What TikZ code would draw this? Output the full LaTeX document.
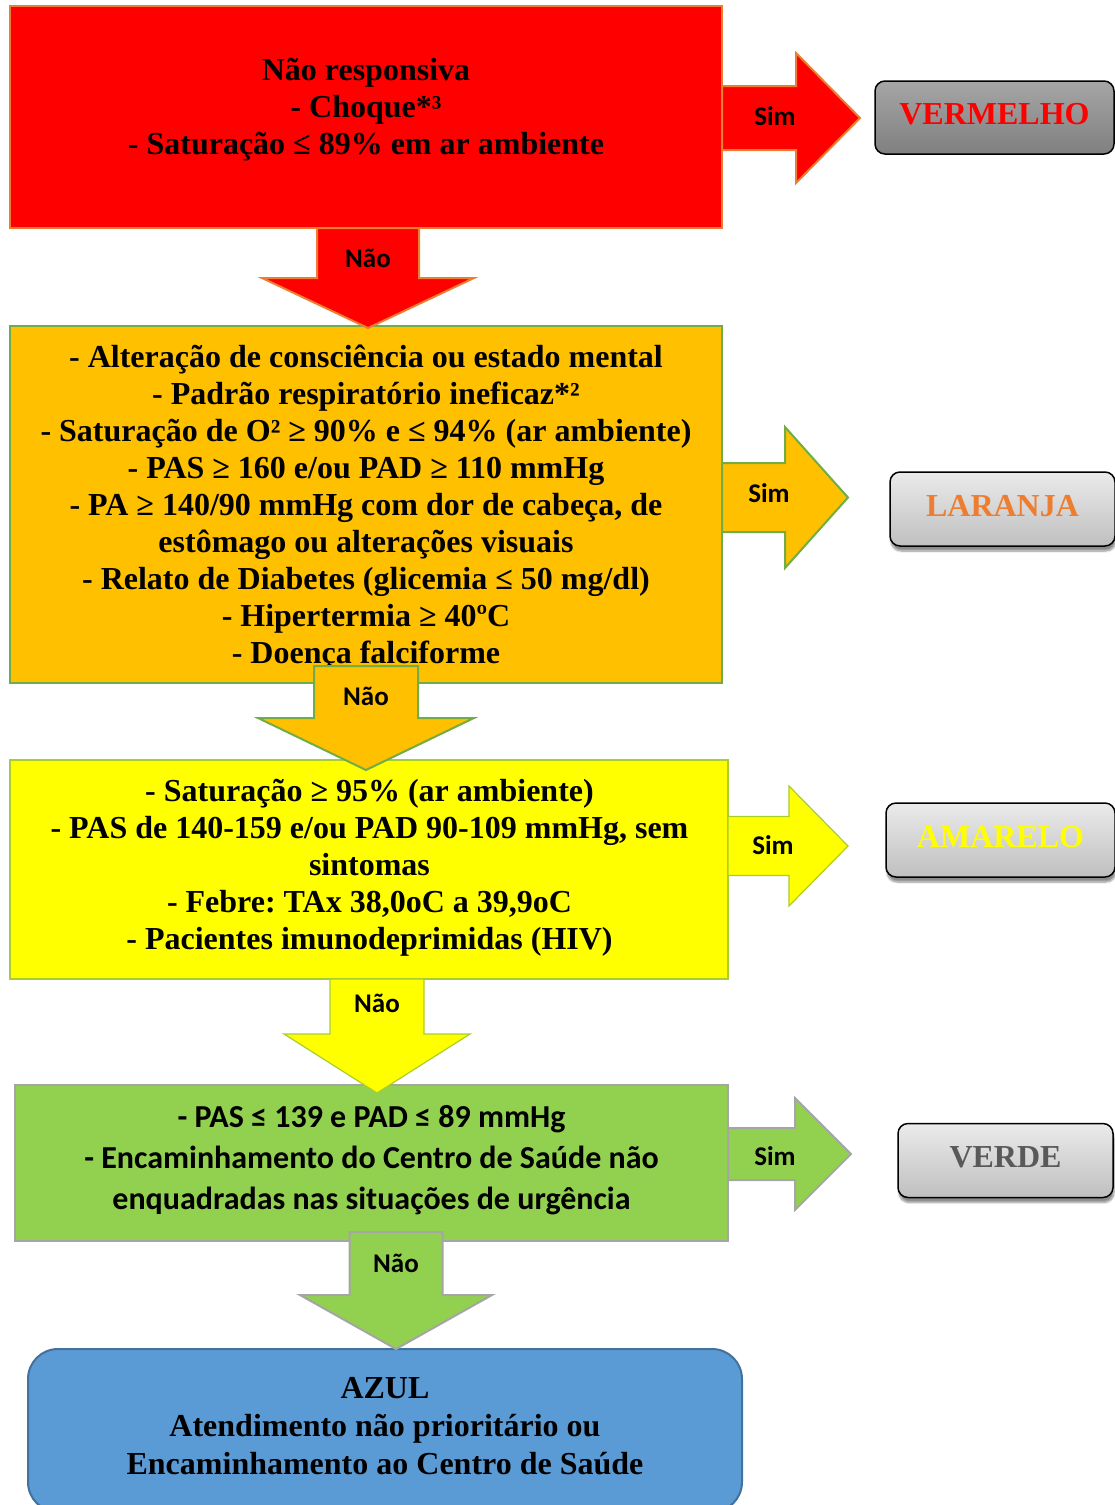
\documentclass[tikz,border=0pt]{standalone}
\usepackage{fontspec}
\setmainfont{Liberation Serif}
\newfontfamily\calib{Carlito}
\usetikzlibrary{calc,shadows.blur}
\frenchspacing

\definecolor{bred}{HTML}{FF0000}
\definecolor{borange}{HTML}{ED7D31}
\definecolor{bamber}{HTML}{FFC000}
\definecolor{byellow}{HTML}{FFFF00}
\definecolor{bgreen}{HTML}{70AD47}
\definecolor{lgreen}{HTML}{92D050}
\definecolor{bgray}{HTML}{A5A5A5}
\definecolor{bblue}{HTML}{5B9BD5}
\definecolor{dblue}{HTML}{41719C}
\definecolor{txtgray}{HTML}{595959}

\tikzset{
  % block arrow pointing down: shaft half width, head half width, shaft length, head length
  pics/downarrow/.style n args={4}{code={
    \path[pic actions] (-#1,0) -- (#1,0) -- (#1,#3) -- (#2,#3) -- (0,#3+#4)
      -- (-#2,#3) -- (-#1,#3) -- cycle;}},
  % block arrow pointing right: shaft half height, head half height, shaft length, head length
  pics/rightarrow/.style n args={4}{code={
    \path[pic actions] (0,-#1) -- (#3,-#1) -- (#3,-#2) -- (#3+#4,0) -- (#3,#2)
      -- (#3,#1) -- (0,#1) -- cycle;}},
  levelbox/.style={rectangle, inner sep=0pt, outer sep=0pt, line width=2pt},
  bodytext/.style={align=center, font=\bfseries\fontsize{32pt}{37pt}\selectfont},
  arrowlabel/.style={font=\calib\bfseries\fontsize{27pt}{30pt}\selectfont},
  colourbox/.style={rectangle, rounded corners=10pt, draw=black, line width=1.5pt,
    inner sep=0pt, text depth=7pt, font=\bfseries\fontsize{32pt}{36pt}\selectfont},
  lightbox/.style={colourbox, top color=white!92!black, bottom color=white!75!black,
    blur shadow={shadow xshift=1pt, shadow yshift=-5pt, shadow opacity=45, shadow blur steps=8}},
}

\begin{document}
\begin{tikzpicture}[x=1pt,y=-1pt]
\useasboundingbox (0,0) rectangle (1115,1505);
\clip (0,0) rectangle (1115,1505);

% level boxes
\node[levelbox, fill=bred, draw=borange, minimum width=712pt, minimum height=222pt] (red) at (366,117) {};
\node[levelbox, fill=bamber, draw=bgreen, minimum width=712pt, minimum height=357pt] (orange) at (366,504.5) {};
\node[levelbox, fill=byellow, draw=bgreen!60!byellow, line width=1.2pt, minimum width=718pt, minimum height=219pt] (yellow) at (369,869.5) {};
\node[levelbox, fill=lgreen, draw=bgray, minimum width=713pt, minimum height=156pt] (green) at (371.5,1163) {};
\node[levelbox, fill=bblue, draw=dblue, rounded corners=30pt, minimum width=714pt, minimum height=163pt] (blue) at (385,1430.5) {};

% outcome boxes
\node[colourbox, top color=white!65!black, bottom color=white!50!black, text=bred,
  minimum width=239pt, minimum height=73pt] (vermelho) at (994.5,117.5) {VERMELHO};
\node[lightbox, text=borange, minimum width=225pt, minimum height=74pt] (laranja) at (1002.5,509) {LARANJA};
\node[lightbox, text=byellow, minimum width=229pt, minimum height=74pt] (amarelo) at (1000.5,840) {AMARELO};
\node[lightbox, text=txtgray, minimum width=215pt, minimum height=74pt] (verde) at (1005.5,1160.5) {VERDE};

% box texts
\node[bodytext] (redtext) at (366,109.5) {Não responsiva\\- Choque*³\\- Saturação ≤ 89\% em ar ambiente};
\node[bodytext] (orangetext) at (366,508) {- Alteração de consciência ou estado mental\\
  - Padrão respiratório ineficaz*²\\
  - Saturação de O² ≥ 90\% e ≤ 94\% (ar ambiente)\\
  - PAS ≥ 160 e/ou PAD ≥ 110 mmHg\\
  - PA ≥ 140/90 mmHg com dor de cabeça, de\\
  estômago ou alterações visuais\\
  - Relato de Diabetes (glicemia ≤ 50 mg/dl)\\
  - Hipertermia ≥ 40ºC\\
  - Doença falciforme};
\node[bodytext] (yellowtext) at (369.5,867.5) {- Saturação ≥ 95\% (ar ambiente)\\
  - PAS de 140-159 e/ou PAD 90-109 mmHg, sem\\
  sintomas\\
  - Febre: TAx 38,0oC a 39,9oC\\
  - Pacientes imunodeprimidas (HIV)};
\node[align=center, font=\calib\bfseries\fontsize{32pt}{41pt}\selectfont] (greentext) at (371.5,1160)
  {- PAS ≤ 139 e PAD ≤ 89 mmHg\\
  - Encaminhamento do Centro de Saúde não\\
  enquadradas nas situações de urgência};
\node[bodytext, font=\bfseries\fontsize{32pt}{38pt}\selectfont] (bluetext) at (385,1426)
  {AZUL\\Atendimento não prioritário ou\\Encaminhamento ao Centro de Saúde};

% "Sim" arrows
\pic[fill=bred, draw=borange, line width=2pt] at ($(red.east)+(0,1)$) {rightarrow={32}{65}{74}{64}};
\pic[fill=bamber, draw=bgreen, line width=2pt] at ($(orange.east)+(0,-7)$) {rightarrow={34.5}{70.5}{63}{63}};
\pic[fill=byellow, draw=bgreen!60!byellow, line width=1.2pt] at ($(yellow.east)+(0,-23.5)$) {rightarrow={29.5}{60}{61}{59}};
\pic[fill=lgreen, draw=bgray, line width=2pt] at ($(green.east)+(0,-9)$) {rightarrow={26}{56}{67}{56}};

% "Não" arrows
\pic[fill=bred, draw=borange, line width=2pt] at ($(red.south)+(2,0)$) {downarrow={51}{106}{50}{50}};
\pic[fill=bamber, draw=bgreen, line width=2pt] at ($(orange.south)+(0,-17)$) {downarrow={52}{108}{52}{52}};
\pic[fill=byellow, draw=bgreen!60!byellow, line width=1.2pt] at ($(yellow.south)+(8,0)$) {downarrow={47}{93}{55}{59}};
\pic[fill=lgreen, draw=bgray, line width=2pt] at ($(green.south)+(24.5,-9)$) {downarrow={46.5}{96}{63}{54}};

% arrow labels
\node[arrowlabel] (sim1) at (775,116) {Sim};
\node[arrowlabel] (sim2) at (769,493) {Sim};
\node[arrowlabel] (sim3) at (773,845) {Sim};
\node[arrowlabel] (sim4) at (775,1156) {Sim};
\node[arrowlabel] (nao1) at (368,258) {Não};
\node[arrowlabel] (nao2) at (366,696) {Não};
\node[arrowlabel] (nao3) at (377,1003) {Não};
\node[arrowlabel] (nao4) at (396,1263) {Não};
\end{tikzpicture}
\end{document}
